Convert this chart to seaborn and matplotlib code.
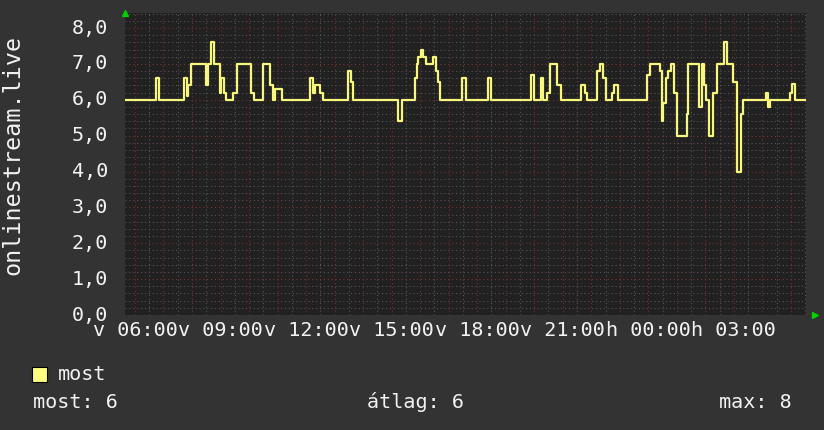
import numpy as np
import pandas as pd
import matplotlib
matplotlib.use("Agg")
import matplotlib.pyplot as plt
from matplotlib.patches import Rectangle
from matplotlib.ticker import MultipleLocator
import seaborn as sns

# ---- data ----
times = ["05:39","06:44","06:50","07:44","07:49","07:52","07:57","08:29","08:33","08:39",
         "08:47","08:59","09:02","09:07","09:11","09:27","09:34","10:05","10:11","10:29",
         "10:44","10:50","10:55","11:09","12:08","12:15","12:19","12:29","12:36","13:29",
         "13:34","13:39","15:13","15:21","15:49","15:53","15:56","16:02","16:06","16:12",
         "16:28","16:33","16:38","16:42","17:27","17:36","18:23","18:30","19:53","20:00",
         "20:14","20:19","20:27","20:33","20:47","20:56","21:38","21:47","21:50","22:13",
         "22:18","22:25","22:31","22:43","22:48","22:57","23:58","00:04","00:25","00:28",
         "00:31","00:37","00:42","00:47","00:55","01:00","01:21","01:24","01:47","01:52",
         "01:57","02:01","02:08","02:16","02:24","02:39","02:45","02:59","03:06","03:14",
         "03:20","04:07","04:12","04:17","04:58","05:03","05:09","05:32"]
values = [6.0,6.6,6.0,6.6,6.1,6.4,7.0,6.4,7.0,7.6,
          7.0,6.2,6.6,6.2,6.0,6.2,7.0,6.2,6.0,7.0,
          6.4,6.0,6.3,6.0,6.6,6.2,6.4,6.2,6.0,6.8,
          6.5,6.0,5.4,6.0,6.6,7.0,7.2,7.4,7.2,7.0,
          7.2,6.8,6.5,6.0,6.6,6.0,6.6,6.0,6.7,6.0,
          6.6,6.0,6.2,7.0,6.4,6.0,6.4,6.2,6.0,6.8,
          7.0,6.6,6.0,6.2,6.4,6.0,6.7,7.0,6.8,5.4,
          5.9,6.6,6.8,7.0,6.2,5.0,5.6,7.0,5.8,7.0,
          6.4,6.0,5.0,6.2,7.0,7.6,7.0,6.5,4.0,5.6,
          6.0,6.2,5.8,6.0,6.2,6.45,6.0,6.0]
tick_hours = [6, 9, 12, 15, 18, 21, 24, 27]
tick_labels = ["v 06:00", "v 09:00", "v 12:00", "v 15:00",
               "v 18:00", "v 21:00", "h 00:00", "h 03:00"]
ytick_values = [0, 1, 2, 3, 4, 5, 6, 7, 8]
ytick_labels = ["0,0", "1,0", "2,0", "3,0", "4,0", "5,0", "6,0", "7,0", "8,0"]
ylabel = "onlinestream.live"
series_name = "most"

# convert HH:MM to hours with day rollover
hours = []
offset = 0.0
prev = -1.0
for t in times:
    h, m = t.split(":")
    v = int(h) + int(m) / 60.0
    if v < prev:
        offset += 24.0
    prev = v
    hours.append(v + offset)
df = pd.DataFrame({"hour": hours, "value": values})

# ---- style ----
sns.set_theme(style="dark", rc={
    "figure.facecolor": "#333333",
    "axes.facecolor": "#212121",
    "axes.edgecolor": "#212121",
    "text.color": "#f2f2f2",
    "xtick.color": "#f2f2f2",
    "ytick.color": "#f2f2f2",
})
plt.rcParams["font.family"] = ["DejaVu Sans Mono", "DejaVu Sans"]
FS = 14.5
TXT = "#f2f2f2"

fig = plt.figure(figsize=(8.24, 4.30), dpi=100)
ax = fig.add_axes([125/824, 1-315/430, (806-125)/824, (315-13)/430])

sns.lineplot(data=df, x="hour", y="value", ax=ax, estimator=None, sort=False,
             drawstyle="steps-post", color="#f7f77e", linewidth=1.6, zorder=5)

ax.set_xlim(5.65, 29.53)
ax.set_ylim(0, 8.42)

# grid
ax.xaxis.set_major_locator(MultipleLocator(1.0))
ax.xaxis.set_minor_locator(MultipleLocator(0.5))
ax.yaxis.set_major_locator(MultipleLocator(1.0))
ax.yaxis.set_minor_locator(MultipleLocator(0.2))
ax.grid(which="minor", color="#555555", linestyle=(0, (1, 2.5)), linewidth=0.8, zorder=1)
ax.grid(which="major", color="#733232", linestyle=(0, (1, 2.5)), linewidth=0.8, zorder=2)
ax.set_axisbelow(True)
ax.tick_params(which="both", length=0)

ax.set_xticklabels([])
ax.set_yticklabels([])
for h, lab in zip(tick_hours, tick_labels):
    ax.annotate(lab, xy=(h, 0), xycoords=("data", "axes fraction"),
                xytext=(0, -16), textcoords="offset pixels",
                ha="center", va="center", fontsize=FS, color=TXT, annotation_clip=False)
for v, lab in zip(ytick_values, ytick_labels):
    ax.annotate(lab, xy=(0, v), xycoords=("axes fraction", "data"),
                xytext=(-17, 0), textcoords="offset pixels",
                ha="right", va="center", fontsize=FS, color=TXT, annotation_clip=False)

for s in ax.spines.values():
    s.set_visible(False)
ax.set_xlabel("")
ax.set_ylabel("")

# axis arrows
ax.plot([0], [1.0], marker="^", color="#00d000", markersize=5, transform=ax.transAxes,
        clip_on=False, zorder=10)
ax.plot([1.0 + 9/681], [0], marker=">", color="#00d000", markersize=5, transform=ax.transAxes,
        clip_on=False, zorder=10)

# y axis label
fig.text(13/824, 1-155/430, ylabel, rotation=90, ha="center", va="center",
         fontsize=16.8, color=TXT)

# legend
fig.patches.append(Rectangle((32/824, 1-382/430), 15/824, 15/430, transform=fig.transFigure,
                             facecolor="#ffff80", edgecolor="#000000", linewidth=0.8))
fig.text(58/824, 1-374/430, series_name, ha="left", va="center", fontsize=FS, color=TXT)

last_v = values[-1]
avg_v = float(np.mean(values))
max_v = max(values)
fig.text(33/824, 1-402/430, f"most: {last_v:.0f}", ha="left", va="center", fontsize=FS, color=TXT)
fig.text(367/824, 1-402/430, f"átlag: {avg_v:.0f}", ha="left", va="center", fontsize=FS, color=TXT)
fig.text(792/824, 1-402/430, f"max: {max_v:.0f}", ha="right", va="center", fontsize=FS, color=TXT)

fig.savefig("out.png", dpi=100, facecolor=fig.get_facecolor())
